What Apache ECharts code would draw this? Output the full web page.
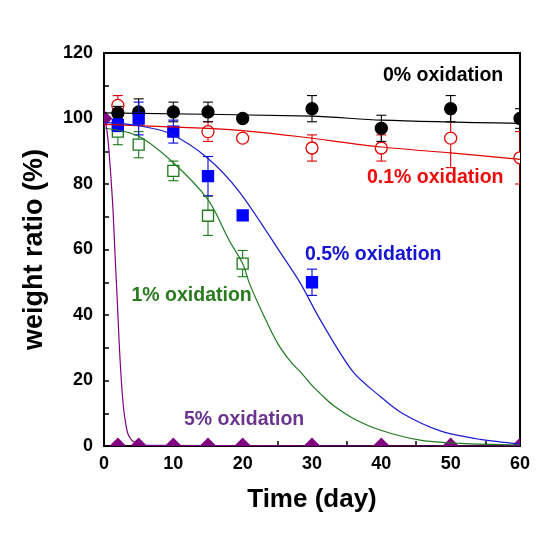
<!DOCTYPE html>
<html><head><meta charset="utf-8">
<script src="https://cdn.jsdelivr.net/npm/echarts@6/dist/echarts.min.js"></script>
<style>html,body{margin:0;padding:0;background:#fff}#c{width:549px;height:549px}</style>
</head><body><div id="c"></div>
<script>
// tick labels
const xTicks = [0, 10, 20, 30, 40, 50, 60];
const yTicks = [0, 20, 40, 60, 80, 100, 120];
// measured points (day, weight ratio %, error)
const days0 = [2, 5, 10, 15, 20, 30, 40, 50, 60];
const val0  = [101.7, 102, 102, 102, 100, 103, 97, 103, 100];
const err0  = [2, 4, 3, 3, 0.8, 4, 4, 4, 3];
const days01 = [2, 15, 20, 30, 40, 50, 60];
const val01  = [104, 96, 94, 91, 91, 94, 88];
const err01  = [3, 3, 1, 4, 4, 9, 8];
const days05 = [2, 5, 10, 15, 20, 30];
const val05  = [98, 100, 96, 82.4, 70.4, 50];
const err05  = [2, 5, 3.5, 6, 1, 4];
const days1 = [2, 5, 10, 15, 20];
const val1  = [96, 92, 84, 70.3, 55.7];
const err1  = [4, 4, 3, 6, 4];
const days5 = [0, 2, 5, 10, 15, 20, 30, 40, 50, 60];
const val5  = [100, 0, 0, 0, 0, 0, 0, 0, 0, 0];
// fitted curves
const fit0  = [[0,101.7],[30,100.7],[40,99.5],[60,98.5]];
const fit01 = [[0,98.2],[15,97],[20,96.3],[28,94.5],[40,91.3],[50,89.5],[60,87.5]];
const fit05 = [[0,98.8],[5,97.8],[9.5,95.4],[15,87.8],[19.6,77.4],[25.8,57.9],[28.3,49.8],[31.2,38.5],[35.9,22.7],[39.8,15.2],[43,10],[48.5,4.6],[54.3,2],[60,0.6]];
const fit1  = [[0,97.1],[5,94.6],[10,86.5],[15,75.2],[18,63],[20,55.7],[21,49.5],[23,40],[25,31.5],[27,25.5],[28.3,22.7],[30,18.5],[31.2,16],[33,12.5],[35.9,8.5],[39.8,4.9],[45.6,1.8],[51.4,0.8],[60,0.3]];
const fit5  = [[0,100],[0.3,98],[0.6,93],[1,82],[1.3,72],[1.6,58],[1.9,45],[2.2,31],[2.5,20],[2.8,12],[3.2,6],[3.6,3],[4.5,1],[6,0.2],[60,0]];

const FONT = 'Arial, "Liberation Sans", sans-serif';

function rows(days, vals, errs) {
  return days.map((d, i) => errs ? [d, vals[i], errs[i]] : [d, vals[i]]);
}
function errSeries(days, vals, errs, color, z) {
  return {
    type: 'custom', clip: true, z: z, silent: true,
    data: rows(days, vals, errs),
    encode: { x: 0, y: 1 },
    renderItem: function (params, api) {
      const x = api.value(0), y = api.value(1), e = api.value(2);
      const t = api.coord([x, y + e]), b = api.coord([x, y - e]);
      const st = { stroke: color, lineWidth: 1.1, fill: null };
      return { type: 'group', children: [
        { type: 'line', shape: { x1: t[0], y1: t[1], x2: b[0], y2: b[1] }, style: st },
        { type: 'line', shape: { x1: t[0] - 5, y1: t[1], x2: t[0] + 5, y2: t[1] }, style: st },
        { type: 'line', shape: { x1: b[0] - 5, y1: b[1], x2: b[0] + 5, y2: b[1] }, style: st }
      ]};
    }
  };
}
function markSeries(days, vals, shape, color, fill, z, size) {
  return {
    type: 'custom', clip: true, z: z, silent: true,
    data: rows(days, vals),
    encode: { x: 0, y: 1 },
    renderItem: function (params, api) {
      const p = api.coord([api.value(0), api.value(1)]);
      const style = { fill: fill, stroke: color, lineWidth: 1.3 };
      if (shape === 'circle') return { type: 'circle', shape: { cx: p[0], cy: p[1], r: size }, style };
      if (shape === 'square') return { type: 'rect', shape: { x: p[0] - size, y: p[1] - size, width: 2 * size, height: 2 * size }, style };
      return { type: 'polygon', shape: { points: [[p[0], p[1] - size], [p[0] + size, p[1]], [p[0], p[1] + size], [p[0] - size, p[1]]] }, style };
    }
  };
}
function fitSeries(data, color, z) {
  return {
    type: 'line', data: data, smooth: 0.3, showSymbol: false, symbol: 'none',
    z: z, silent: true, lineStyle: { color: color, width: 1.2 }
  };
}

const chart = echarts.init(document.getElementById('c'), null, { renderer: 'canvas' });
chart.setOption({
  animation: false,
  backgroundColor: '#fff',
  grid: { left: 104, top: 53, width: 416, height: 393, show: true, borderColor: '#000', borderWidth: 2, containLabel: false },
  xAxis: {
    type: 'value', min: xTicks[0], max: xTicks[xTicks.length - 1], interval: 5,
    axisLine: { lineStyle: { color: '#000', width: 2 } },
    axisTick: { inside: true, length: 5, lineStyle: { color: '#000', width: 1.5 } },
    splitLine: { show: false },
    axisLabel: { formatter: v => xTicks.includes(v) ? String(v) : '', color: '#000', fontSize: 18, fontWeight: 'bold', fontFamily: FONT, margin: 9 },
    name: 'Time (day)', nameLocation: 'middle', nameGap: 41,
    nameTextStyle: { color: '#000', fontSize: 26, fontWeight: 'bold', fontFamily: FONT }
  },
  yAxis: {
    type: 'value', min: yTicks[0], max: yTicks[yTicks.length - 1], interval: 10,
    axisLine: { lineStyle: { color: '#000', width: 2 } },
    axisTick: { inside: true, length: 5, lineStyle: { color: '#000', width: 1.5 } },
    splitLine: { show: false },
    axisLabel: { formatter: v => yTicks.includes(v) ? String(v) : '', color: '#000', fontSize: 18, fontWeight: 'bold', fontFamily: FONT, margin: 11 },
    name: 'weight ratio (%)', nameLocation: 'middle', nameGap: 56,
    nameTextStyle: { color: '#000', fontSize: 27, fontWeight: 'bold', fontFamily: FONT }
  },
  series: [
    errSeries(days01, val01, err01, '#e00000', 2),
    markSeries(days01, val01, 'circle', '#e00000', '#fff', 3, 6),
    errSeries(days0, val0, err0, '#000', 4),
    markSeries(days0, val0, 'circle', '#000', '#000', 5, 6),
    errSeries(days1, val1, err1, '#1a7a1a', 6),
    markSeries(days1, val1, 'square', '#1a7a1a', '#fff', 7, 5.5),
    errSeries(days05, val05, err05, '#0000e0', 8),
    markSeries(days05, val05, 'square', '#0000ff', '#0000ff', 9, 5.5),
    markSeries(days5, val5, 'diamond', '#800080', '#800080', 10, 7.5),
    fitSeries(fit0, '#000', 11),
    fitSeries(fit01, '#e00000', 11),
    fitSeries(fit05, '#1a1ad0', 11),
    fitSeries(fit1, '#217a21', 11),
    fitSeries(fit5, '#800080', 11)
  ],
  graphic: [
    { type: 'text', x: 383, y: 76, z: 20, style: { text: '0% oxidation', font: 'bold 19.5px ' + FONT, fill: '#000', align: 'left', verticalAlign: 'middle', textAlign: 'left', textVerticalAlign: 'middle' } },
    { type: 'text', x: 367, y: 177.5, z: 20, style: { text: '0.1% oxidation', font: 'bold 19.5px ' + FONT, fill: '#ee0a0a', align: 'left', verticalAlign: 'middle', textAlign: 'left', textVerticalAlign: 'middle' } },
    { type: 'text', x: 305, y: 255, z: 20, style: { text: '0.5% oxidation', font: 'bold 19.5px ' + FONT, fill: '#1414d2', align: 'left', verticalAlign: 'middle', textAlign: 'left', textVerticalAlign: 'middle' } },
    { type: 'text', x: 131.5, y: 295.5, z: 20, style: { text: '1% oxidation', font: 'bold 19.5px ' + FONT, fill: '#2a7a1e', align: 'left', verticalAlign: 'middle', textAlign: 'left', textVerticalAlign: 'middle' } },
    { type: 'text', x: 184, y: 419.7, z: 20, style: { text: '5% oxidation', font: 'bold 19.5px ' + FONT, fill: '#6a358c', align: 'left', verticalAlign: 'middle', textAlign: 'left', textVerticalAlign: 'middle' } }
  ]
});
</script>
</body></html>
